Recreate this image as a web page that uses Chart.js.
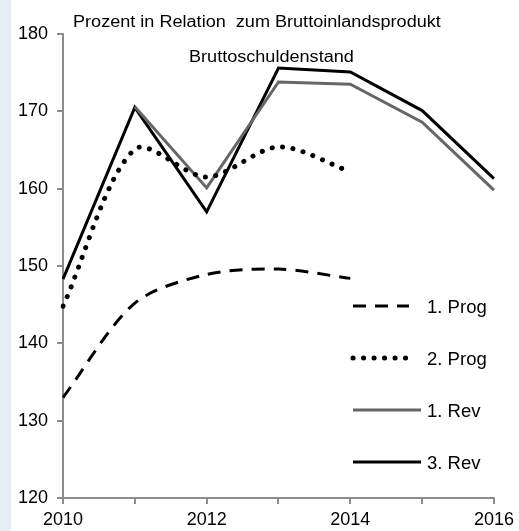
<!DOCTYPE html>
<html lang="de">
<head>
<meta charset="UTF-8">
<script src="https://cdn.jsdelivr.net/npm/chart.js@4.4.1/dist/chart.umd.min.js"></script>
<title>Bruttoschuldenstand</title>
<style>
  html, body { margin: 0; padding: 0; background: #fff; }
  #wrap { position: relative; width: 519px; height: 531px; }
  #strip { position: absolute; left: 0; top: 0; width: 11px; height: 531px; background: #e8eef6; }
  #myChart { position: absolute; left: 0; top: 0; }
</style>
</head>
<body>
<div id="wrap">
  <div id="strip"></div>
  <canvas id="myChart" width="519" height="531"></canvas>
</div>
<script>
  const years = ['2010', '2011', '2012', '2013', '2014', '2015', '2016'];
  const prog1 = [133.0, 145.2, 148.9, 149.6, 148.4, null, null];
  const prog2 = [144.8, 165.1, 161.5, 165.4, 162.2, null, null];
  const rev1 = [null, 170.6, 160.1, 173.8, 173.5, 168.6, 159.8];
  const rev3 = [148.3, 170.5, 157.0, 175.6, 175.1, 170.1, 161.3];
  const yTicks = [120, 130, 140, 150, 160, 170, 180];

  const titleLine1 = 'Prozent in Relation  zum Bruttoinlandsprodukt';
  const titleLine2 = 'Bruttoschuldenstand';

  const axisColor = '#8c8c8c';
  const fontFamily = 'Arial, "Liberation Sans", sans-serif';

  const datasets = [
    { label: '1. Prog', data: prog1, borderColor: '#000', borderWidth: 3,
      borderDash: [13, 9], tension: 0.3 },
    { label: '2. Prog', data: prog2, borderColor: '#000', borderWidth: 5,
      borderDash: [0.1, 10.4], borderCapStyle: 'round', tension: 0.3 },
    { label: '1. Rev', data: rev1, borderColor: '#666666', borderWidth: 3, tension: 0 },
    { label: '3. Rev', data: rev3, borderColor: '#000', borderWidth: 3, tension: 0 }
  ].map((d) => ({ ...d, pointRadius: 0, fill: false, spanGaps: false }));

  // draw text slightly widened, as in the original picture
  function wideText(ctx, text, x, y, sx) {
    ctx.save();
    ctx.translate(x, y);
    ctx.scale(sx, 1);
    ctx.fillText(text, 0, 0);
    ctx.restore();
  }

  const textPlugin = {
    id: 'texts',
    afterDraw(chart) {
      const ctx = chart.ctx;
      ctx.save();
      ctx.fillStyle = '#000';
      ctx.textBaseline = 'alphabetic';
      ctx.textAlign = 'left';
      ctx.font = '16px ' + fontFamily;
      wideText(ctx, titleLine1, 73, 27, 1.13);
      wideText(ctx, titleLine2, 189, 62, 1.13);

      // legend inside the plot
      const rowsY = [306, 358, 410, 462];
      const lineLen = [56, 60, 68, 68];
      ctx.font = '18px ' + fontFamily;
      chart.data.datasets.forEach((ds, i) => {
        const y = rowsY[i];
        ctx.beginPath();
        ctx.strokeStyle = ds.borderColor;
        ctx.lineWidth = ds.borderWidth;
        ctx.lineCap = ds.borderCapStyle || 'butt';
        ctx.setLineDash(ds.borderDash || []);
        ctx.moveTo(353, y);
        ctx.lineTo(353 + lineLen[i], y);
        ctx.stroke();
        ctx.setLineDash([]);
        wideText(ctx, ds.label, 427, y + 7, 1.03);
      });
      ctx.restore();
    }
  };

  const ctx = document.getElementById('myChart').getContext('2d');
  const myChart = new Chart(ctx, {
    type: 'line',
    data: { labels: years, datasets: datasets },
    options: {
      responsive: false,
      animation: false,
      layout: { padding: { left: 11, top: 34, right: 24, bottom: 0 } },
      plugins: { legend: { display: false }, title: { display: false }, tooltip: { enabled: false } },
      scales: {
        x: {
          type: 'category',
          offset: false,
          border: { color: axisColor, width: 2 },
          grid: { drawOnChartArea: false, drawTicks: true, tickLength: 6, color: axisColor, lineWidth: 2 },
          ticks: {
            color: '#000',
            font: { family: fontFamily, size: 18 },
            padding: 5,
            maxRotation: 0,
            autoSkip: false,
            callback: (v, i) => (i % 2 === 0 ? years[i] : '')
          },
          afterFit: (scale) => { scale.height = 33; }
        },
        y: {
          min: 120,
          max: 180,
          border: { color: axisColor, width: 2 },
          grid: { drawOnChartArea: false, drawTicks: true, tickLength: 6, color: axisColor, lineWidth: 2 },
          afterBuildTicks: (scale) => { scale.ticks = yTicks.map((v) => ({ value: v })); },
          ticks: {
            color: '#000',
            font: { family: fontFamily, size: 18 },
            padding: 9,
            callback: (v) => String(v)
          },
          afterFit: (scale) => { scale.width = 52; }
        }
      }
    },
    plugins: [textPlugin]
  });
</script>
</body>
</html>
